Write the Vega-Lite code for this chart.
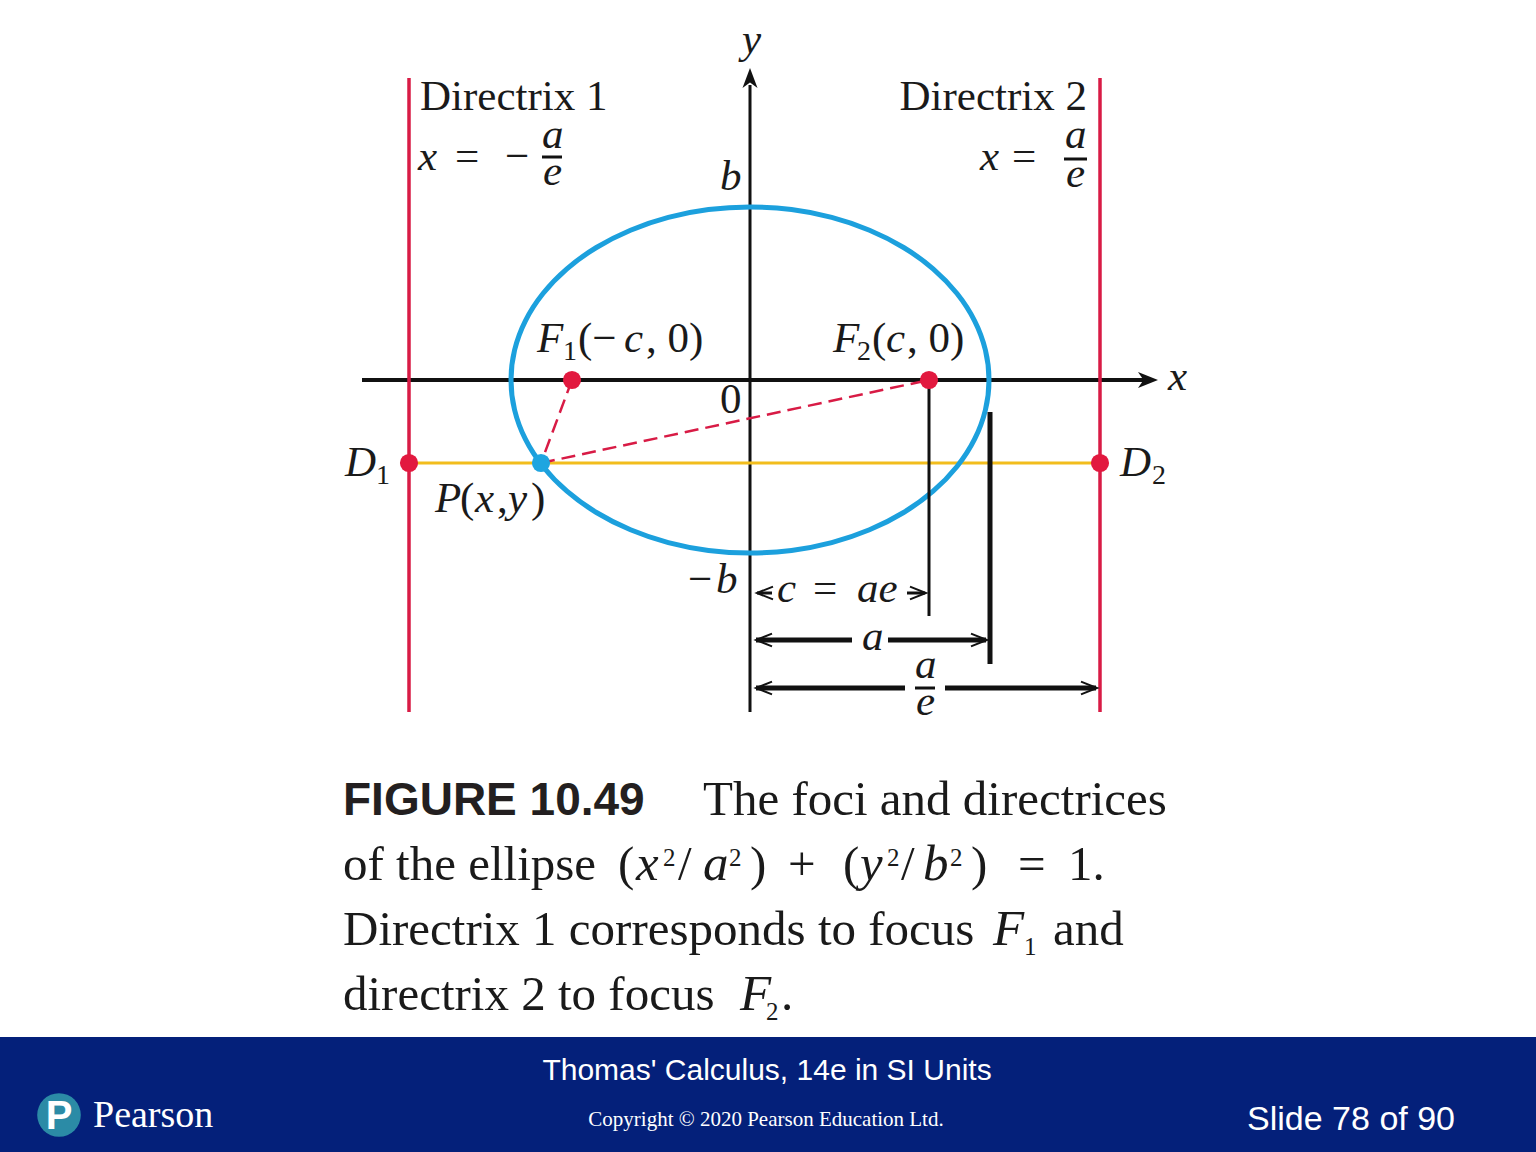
{
  "$schema": "https://vega.github.io/schema/vega-lite/v6.json",
  "width": 1536,
  "height": 1152,
  "autosize": {"type": "none"},
  "padding": 0,
  "background": "white",
  "config": {"view": {"stroke": null}},
  "datasets": {
    "segs": [
      {"kind": "axisX", "x": -3.88, "y": 0, "x2": 3.95, "y2": 0},
      {"kind": "axisY", "x": 0, "y": -3.32, "x2": 0, "y2": 2.95},
      {"kind": "directrix", "x": -3.41, "y": 3.02, "x2": -3.41, "y2": -3.32},
      {"kind": "directrix", "x": 3.5, "y": 3.02, "x2": 3.5, "y2": -3.32},
      {"kind": "yellow", "x": -3.41, "y": -0.83, "x2": 3.5, "y2": -0.83},
      {"kind": "dash", "x": -1.78, "y": 0, "x2": -2.09, "y2": -0.83},
      {"kind": "dash", "x": -2.09, "y": -0.83, "x2": 1.79, "y2": 0},
      {"kind": "thin", "x": 1.79, "y": 0, "x2": 1.79, "y2": -2.36},
      {"kind": "thin", "x": 0.07, "y": -2.13, "x2": 0.22, "y2": -2.13},
      {"kind": "thin", "x": 1.57, "y": -2.13, "x2": 1.75, "y2": -2.13},
      {"kind": "thick", "x": 2.4, "y": -0.32, "x2": 2.4, "y2": -2.84},
      {"kind": "thick", "x": 0.06, "y": -2.6, "x2": 1.02, "y2": -2.6},
      {"kind": "thick", "x": 1.38, "y": -2.6, "x2": 2.36, "y2": -2.6},
      {"kind": "thick", "x": 0.06, "y": -3.08, "x2": 1.55, "y2": -3.08},
      {"kind": "thick", "x": 1.95, "y": -3.08, "x2": 3.46, "y2": -3.08},
      {"kind": "bar", "x": -2.08, "y": 2.23, "x2": -1.88, "y2": 2.23},
      {"kind": "bar", "x": 3.14, "y": 2.21, "x2": 3.37, "y2": 2.21},
      {"kind": "bar", "x": 1.65, "y": -3.08, "x2": 1.85, "y2": -3.08}
    ],
    "ellipse": [
      {"i": 0, "x": 2.39, "y": 0},
      {"i": 1, "x": 2.354, "y": 0.3},
      {"i": 2, "x": 2.246, "y": 0.592},
      {"i": 3, "x": 2.07, "y": 0.865},
      {"i": 4, "x": 1.831, "y": 1.112},
      {"i": 5, "x": 1.536, "y": 1.325},
      {"i": 6, "x": 1.195, "y": 1.498},
      {"i": 7, "x": 0.817, "y": 1.626},
      {"i": 8, "x": 0.415, "y": 1.704},
      {"i": 9, "x": 0, "y": 1.73},
      {"i": 10, "x": -0.415, "y": 1.704},
      {"i": 11, "x": -0.817, "y": 1.626},
      {"i": 12, "x": -1.195, "y": 1.498},
      {"i": 13, "x": -1.536, "y": 1.325},
      {"i": 14, "x": -1.831, "y": 1.112},
      {"i": 15, "x": -2.07, "y": 0.865},
      {"i": 16, "x": -2.246, "y": 0.592},
      {"i": 17, "x": -2.354, "y": 0.3},
      {"i": 18, "x": -2.39, "y": 0},
      {"i": 19, "x": -2.354, "y": -0.3},
      {"i": 20, "x": -2.246, "y": -0.592},
      {"i": 21, "x": -2.07, "y": -0.865},
      {"i": 22, "x": -1.831, "y": -1.112},
      {"i": 23, "x": -1.536, "y": -1.325},
      {"i": 24, "x": -1.195, "y": -1.498},
      {"i": 25, "x": -0.817, "y": -1.626},
      {"i": 26, "x": -0.415, "y": -1.704},
      {"i": 27, "x": 0, "y": -1.73},
      {"i": 28, "x": 0.415, "y": -1.704},
      {"i": 29, "x": 0.817, "y": -1.626},
      {"i": 30, "x": 1.195, "y": -1.498},
      {"i": 31, "x": 1.536, "y": -1.325},
      {"i": 32, "x": 1.831, "y": -1.112},
      {"i": 33, "x": 2.07, "y": -0.865},
      {"i": 34, "x": 2.246, "y": -0.592},
      {"i": 35, "x": 2.354, "y": -0.3}
    ],
    "dots": [
      {"kind": "red", "x": -1.78, "y": 0},
      {"kind": "red", "x": 1.79, "y": 0},
      {"kind": "red", "x": -3.41, "y": -0.83},
      {"kind": "red", "x": 3.5, "y": -0.83},
      {"kind": "blue", "x": -2.09, "y": -0.83}
    ],
    "arrows": [
      {"dir": "right", "x": 3.98, "y": 0},
      {"dir": "up", "x": 0, "y": 3.02}
    ],
    "chev": [
      {"dir": "L", "x": 0.15, "y": -2.13},
      {"dir": "R", "x": 1.68, "y": -2.13},
      {"dir": "L", "x": 0.14, "y": -2.6},
      {"dir": "R", "x": 2.29, "y": -2.6},
      {"dir": "L", "x": 0.14, "y": -3.08},
      {"dir": "R", "x": 3.39, "y": -3.08}
    ],
    "band": [{"x": -7.5, "x2": 7.86, "y": -6.57, "y2": -7.72}],
    "logo": [{"x": -6.91, "y": -7.35}],
    "labels": [
      {"grp": "up42", "text": "Directrix 1", "x": -3.3, "y": 2.7},
      {"grp": "up42", "text": "=", "x": -2.95, "y": 2.1},
      {"grp": "up42", "text": "−", "x": -2.45, "y": 2.1},
      {"grp": "up42", "text": "=", "x": 2.62, "y": 2.1},
      {"grp": "up42", "text": "(−", "x": -1.72, "y": 0.28},
      {"grp": "up42", "text": ", 0)", "x": -1.04, "y": 0.28},
      {"grp": "up42", "text": "(", "x": 1.22, "y": 0.28},
      {"grp": "up42", "text": ", 0)", "x": 1.57, "y": 0.28},
      {"grp": "up42", "text": "0", "x": -0.3, "y": -0.33},
      {"grp": "up42", "text": "(", "x": -2.9, "y": -1.32},
      {"grp": "up42", "text": ",", "x": -2.53, "y": -1.32},
      {"grp": "up42", "text": ")", "x": -2.19, "y": -1.32},
      {"grp": "up42", "text": "−", "x": -0.62, "y": -2.13},
      {"grp": "up42", "text": "=", "x": 0.63, "y": -2.22},
      {"grp": "right42", "text": "Directrix 2", "x": 3.37, "y": 2.7},
      {"grp": "it42", "text": "x", "x": -3.32, "y": 2.1},
      {"grp": "it42", "text": "a", "x": -2.08, "y": 2.32},
      {"grp": "it42", "text": "e", "x": -2.07, "y": 1.95},
      {"grp": "it42", "text": "x", "x": 2.3, "y": 2.1},
      {"grp": "it42", "text": "a", "x": 3.15, "y": 2.32},
      {"grp": "it42", "text": "e", "x": 3.16, "y": 1.93},
      {"grp": "it42", "text": "y", "x": -0.08, "y": 3.27},
      {"grp": "it42", "text": "b", "x": -0.3, "y": 1.9},
      {"grp": "it42", "text": "x", "x": 4.18, "y": -0.1},
      {"grp": "it42", "text": "F", "x": -2.13, "y": 0.28},
      {"grp": "it42", "text": "c", "x": -1.26, "y": 0.28},
      {"grp": "it42", "text": "F", "x": 0.83, "y": 0.28},
      {"grp": "it42", "text": "c", "x": 1.36, "y": 0.28},
      {"grp": "it42", "text": "D", "x": -4.05, "y": -0.96},
      {"grp": "it42", "text": "D", "x": 3.7, "y": -0.96},
      {"grp": "it42", "text": "P", "x": -3.15, "y": -1.32},
      {"grp": "it42", "text": "x", "x": -2.75, "y": -1.32},
      {"grp": "it42", "text": "y", "x": -2.42, "y": -1.32},
      {"grp": "it42", "text": "b", "x": -0.34, "y": -2.13},
      {"grp": "it42", "text": "c", "x": 0.27, "y": -2.22},
      {"grp": "it42", "text": "ae", "x": 1.07, "y": -2.22},
      {"grp": "it42", "text": "a", "x": 1.12, "y": -2.7},
      {"grp": "it42", "text": "a", "x": 1.65, "y": -2.98},
      {"grp": "it42", "text": "e", "x": 1.66, "y": -3.35},
      {"grp": "sub28", "text": "1", "x": -1.87, "y": 0.2},
      {"grp": "sub28", "text": "2", "x": 1.07, "y": 0.2},
      {"grp": "sub28", "text": "1", "x": -3.74, "y": -1.04},
      {"grp": "sub28", "text": "2", "x": 4.02, "y": -1.04},
      {"grp": "fig", "text": "FIGURE 10.49", "x": -4.07, "y": -4.35},
      {"grp": "cap", "text": "The foci and directrices", "x": -0.47, "y": -4.35},
      {"grp": "cap", "text": "of the ellipse", "x": -4.07, "y": -5.0},
      {"grp": "cap", "text": "(", "x": -1.32, "y": -5.0},
      {"grp": "cap", "text": "/", "x": -0.72, "y": -5.0},
      {"grp": "cap", "text": ")", "x": 0.0, "y": -5.0},
      {"grp": "cap", "text": "+", "x": 0.38, "y": -5.0},
      {"grp": "cap", "text": "(", "x": 0.93, "y": -5.0},
      {"grp": "cap", "text": "/", "x": 1.51, "y": -5.0},
      {"grp": "cap", "text": ")", "x": 2.21, "y": -5.0},
      {"grp": "cap", "text": "=", "x": 2.68, "y": -5.0},
      {"grp": "cap", "text": "1.", "x": 3.18, "y": -5.0},
      {"grp": "cap", "text": "Directrix 1 corresponds to focus", "x": -4.07, "y": -5.65},
      {"grp": "cap", "text": "and", "x": 3.03, "y": -5.65},
      {"grp": "cap", "text": "directrix 2 to focus", "x": -4.07, "y": -6.3},
      {"grp": "cap", "text": ".", "x": 0.31, "y": -6.3},
      {"grp": "capit", "text": "x", "x": -1.14, "y": -5.0},
      {"grp": "capit", "text": "a", "x": -0.47, "y": -5.0},
      {"grp": "capit", "text": "y", "x": 1.1, "y": -5.0},
      {"grp": "capit", "text": "b", "x": 1.73, "y": -5.0},
      {"grp": "capit", "text": "F", "x": 2.43, "y": -5.65},
      {"grp": "capit", "text": "F", "x": -0.1, "y": -6.3},
      {"grp": "capsm", "text": "2", "x": -0.87, "y": -4.86},
      {"grp": "capsm", "text": "2", "x": -0.21, "y": -4.86},
      {"grp": "capsm", "text": "2", "x": 1.37, "y": -4.86},
      {"grp": "capsm", "text": "2", "x": 2.0, "y": -4.86},
      {"grp": "capsm", "text": "1", "x": 2.74, "y": -5.75},
      {"grp": "capsm", "text": "2", "x": 0.16, "y": -6.4},
      {"grp": "ft1", "text": "Thomas' Calculus, 14e in SI Units", "x": 0.17, "y": -7.0},
      {"grp": "ft2", "text": "Copyright © 2020 Pearson Education Ltd.", "x": 0.16, "y": -7.46},
      {"grp": "ft3", "text": "Slide 78 of 90", "x": 7.05, "y": -7.5},
      {"grp": "ftP", "text": "P", "x": -6.91, "y": -7.49},
      {"grp": "ft4", "text": "Pearson", "x": -6.57, "y": -7.47}
    ]
  },
  "encoding": {
    "x": {"field": "x", "type": "quantitative", "scale": {"domain": [-7.5, 7.86], "nice": false, "zero": false}, "axis": null},
    "y": {"field": "y", "type": "quantitative", "scale": {"domain": [-7.72, 3.8], "nice": false, "zero": false}, "axis": null}
  },
  "layer": [
    {
      "data": {"name": "band"},
      "mark": {"type": "rect", "color": "#04207a"},
      "encoding": {"x2": {"field": "x2"}, "y2": {"field": "y2"}}
    },
    {
      "data": {"name": "segs"},
      "transform": [{"filter": "datum.kind === 'axisX'"}],
      "mark": {"type": "rule", "color": "#111111", "strokeWidth": 4},
      "encoding": {"x2": {"field": "x2"}, "y2": {"field": "y2"}}
    },
    {
      "data": {"name": "segs"},
      "transform": [{"filter": "datum.kind === 'axisY'"}],
      "mark": {"type": "rule", "color": "#111111", "strokeWidth": 3},
      "encoding": {"x2": {"field": "x2"}, "y2": {"field": "y2"}}
    },
    {
      "data": {"name": "segs"},
      "transform": [{"filter": "datum.kind === 'directrix'"}],
      "mark": {"type": "rule", "color": "#d81b45", "strokeWidth": 3.5},
      "encoding": {"x2": {"field": "x2"}, "y2": {"field": "y2"}}
    },
    {
      "data": {"name": "segs"},
      "transform": [{"filter": "datum.kind === 'yellow'"}],
      "mark": {"type": "rule", "color": "#f2bd1c", "strokeWidth": 3},
      "encoding": {"x2": {"field": "x2"}, "y2": {"field": "y2"}}
    },
    {
      "data": {"name": "ellipse"},
      "mark": {"type": "line", "color": "#1ca0dd", "strokeWidth": 5, "interpolate": "cardinal-closed"},
      "encoding": {"order": {"field": "i", "type": "quantitative"}}
    },
    {
      "data": {"name": "segs"},
      "transform": [{"filter": "datum.kind === 'dash'"}],
      "mark": {"type": "rule", "color": "#d81b45", "strokeWidth": 2.5, "strokeDash": [14, 7]},
      "encoding": {"x2": {"field": "x2"}, "y2": {"field": "y2"}}
    },
    {
      "data": {"name": "segs"},
      "transform": [{"filter": "datum.kind === 'thin'"}],
      "mark": {"type": "rule", "color": "#111111", "strokeWidth": 3},
      "encoding": {"x2": {"field": "x2"}, "y2": {"field": "y2"}}
    },
    {
      "data": {"name": "segs"},
      "transform": [{"filter": "datum.kind === 'thick'"}],
      "mark": {"type": "rule", "color": "#111111", "strokeWidth": 5},
      "encoding": {"x2": {"field": "x2"}, "y2": {"field": "y2"}}
    },
    {
      "data": {"name": "segs"},
      "transform": [{"filter": "datum.kind === 'bar'"}],
      "mark": {"type": "rule", "color": "#111111", "strokeWidth": 3},
      "encoding": {"x2": {"field": "x2"}, "y2": {"field": "y2"}}
    },
    {
      "data": {"name": "arrows"},
      "transform": [{"filter": "datum.dir === 'right'"}],
      "mark": {"type": "point", "shape": "M1,0 L-1,-0.8 L-0.45,0 L-1,0.8 Z", "size": 400, "filled": true, "opacity": 1, "color": "#111111", "strokeWidth": 0}
    },
    {
      "data": {"name": "arrows"},
      "transform": [{"filter": "datum.dir === 'up'"}],
      "mark": {"type": "point", "shape": "M0,-1 L-0.75,1 L0,0.45 L0.75,1 Z", "size": 400, "filled": true, "opacity": 1, "color": "#111111", "strokeWidth": 0}
    },
    {
      "data": {"name": "chev"},
      "transform": [{"filter": "datum.dir === 'R'"}],
      "mark": {"type": "point", "shape": "M-1,-0.8 L1,0 L-1,0.8", "size": 256, "filled": false, "opacity": 1, "color": "#111111", "strokeWidth": 2}
    },
    {
      "data": {"name": "chev"},
      "transform": [{"filter": "datum.dir === 'L'"}],
      "mark": {"type": "point", "shape": "M1,-0.8 L-1,0 L1,0.8", "size": 256, "filled": false, "opacity": 1, "color": "#111111", "strokeWidth": 2}
    },
    {
      "data": {"name": "dots"},
      "transform": [{"filter": "datum.kind === 'red'"}],
      "mark": {"type": "point", "shape": "circle", "size": 330, "filled": true, "opacity": 1, "color": "#e2193f", "strokeWidth": 0}
    },
    {
      "data": {"name": "dots"},
      "transform": [{"filter": "datum.kind === 'blue'"}],
      "mark": {"type": "point", "shape": "circle", "size": 330, "filled": true, "opacity": 1, "color": "#1fa5e0", "strokeWidth": 0}
    },
    {
      "data": {"name": "logo"},
      "mark": {"type": "point", "shape": "circle", "size": 1900, "filled": true, "opacity": 1, "color": "#2b8ba6", "strokeWidth": 0}
    },
    {
      "data": {"name": "labels"},
      "transform": [{"filter": "datum.grp === 'up42'"}],
      "mark": {"type": "text", "font": "Liberation Serif", "fontSize": 43, "align": "left", "baseline": "alphabetic", "color": "#1a1a1a"},
      "encoding": {"text": {"field": "text"}}
    },
    {
      "data": {"name": "labels"},
      "transform": [{"filter": "datum.grp === 'right42'"}],
      "mark": {"type": "text", "font": "Liberation Serif", "fontSize": 43, "align": "right", "baseline": "alphabetic", "color": "#1a1a1a"},
      "encoding": {"text": {"field": "text"}}
    },
    {
      "data": {"name": "labels"},
      "transform": [{"filter": "datum.grp === 'it42'"}],
      "mark": {"type": "text", "font": "Liberation Serif", "fontSize": 43, "fontStyle": "italic", "align": "left", "baseline": "alphabetic", "color": "#1a1a1a"},
      "encoding": {"text": {"field": "text"}}
    },
    {
      "data": {"name": "labels"},
      "transform": [{"filter": "datum.grp === 'sub28'"}],
      "mark": {"type": "text", "font": "Liberation Serif", "fontSize": 28, "align": "left", "baseline": "alphabetic", "color": "#1a1a1a"},
      "encoding": {"text": {"field": "text"}}
    },
    {
      "data": {"name": "labels"},
      "transform": [{"filter": "datum.grp === 'fig'"}],
      "mark": {"type": "text", "font": "Liberation Sans", "fontSize": 46, "fontWeight": "bold", "align": "left", "baseline": "alphabetic", "color": "#231f20"},
      "encoding": {"text": {"field": "text"}}
    },
    {
      "data": {"name": "labels"},
      "transform": [{"filter": "datum.grp === 'cap'"}],
      "mark": {"type": "text", "font": "Liberation Serif", "fontSize": 49, "align": "left", "baseline": "alphabetic", "color": "#1a1a1a"},
      "encoding": {"text": {"field": "text"}}
    },
    {
      "data": {"name": "labels"},
      "transform": [{"filter": "datum.grp === 'capit'"}],
      "mark": {"type": "text", "font": "Liberation Serif", "fontSize": 51, "fontStyle": "italic", "align": "left", "baseline": "alphabetic", "color": "#1a1a1a"},
      "encoding": {"text": {"field": "text"}}
    },
    {
      "data": {"name": "labels"},
      "transform": [{"filter": "datum.grp === 'capsm'"}],
      "mark": {"type": "text", "font": "Liberation Serif", "fontSize": 25, "align": "left", "baseline": "alphabetic", "color": "#1a1a1a"},
      "encoding": {"text": {"field": "text"}}
    },
    {
      "data": {"name": "labels"},
      "transform": [{"filter": "datum.grp === 'ft1'"}],
      "mark": {"type": "text", "font": "Liberation Sans", "fontSize": 30, "align": "center", "baseline": "alphabetic", "color": "white"},
      "encoding": {"text": {"field": "text"}}
    },
    {
      "data": {"name": "labels"},
      "transform": [{"filter": "datum.grp === 'ft2'"}],
      "mark": {"type": "text", "font": "Liberation Serif", "fontSize": 21, "align": "center", "baseline": "alphabetic", "color": "white"},
      "encoding": {"text": {"field": "text"}}
    },
    {
      "data": {"name": "labels"},
      "transform": [{"filter": "datum.grp === 'ft3'"}],
      "mark": {"type": "text", "font": "Liberation Sans", "fontSize": 34, "align": "right", "baseline": "alphabetic", "color": "white"},
      "encoding": {"text": {"field": "text"}}
    },
    {
      "data": {"name": "labels"},
      "transform": [{"filter": "datum.grp === 'ftP'"}],
      "mark": {"type": "text", "font": "Liberation Sans", "fontSize": 40, "fontWeight": "bold", "align": "center", "baseline": "alphabetic", "color": "white"},
      "encoding": {"text": {"field": "text"}}
    },
    {
      "data": {"name": "labels"},
      "transform": [{"filter": "datum.grp === 'ft4'"}],
      "mark": {"type": "text", "font": "Liberation Serif", "fontSize": 38, "align": "left", "baseline": "alphabetic", "color": "white"},
      "encoding": {"text": {"field": "text"}}
    }
  ]
}
